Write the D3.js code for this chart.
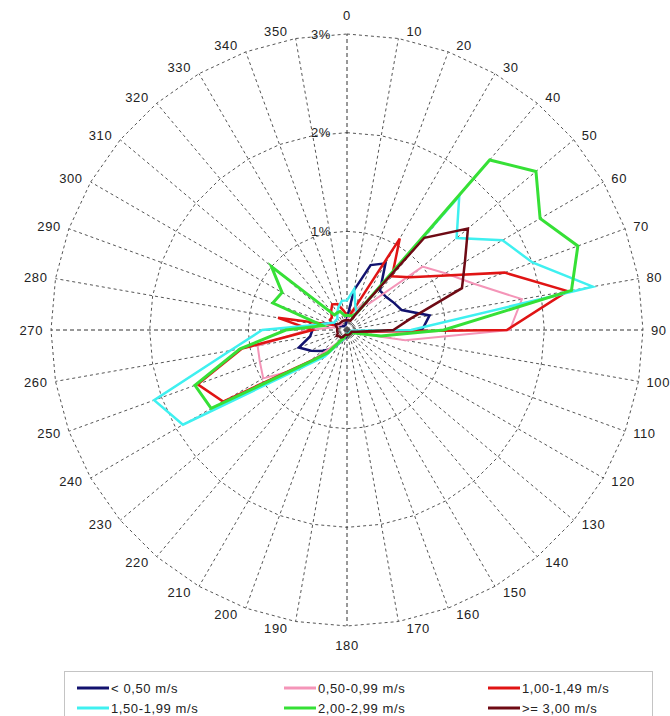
<!DOCTYPE html>
<html>
<head>
<meta charset="utf-8">
<script src="https://cdn.jsdelivr.net/npm/d3@7/dist/d3.min.js"></script>
<style>
  html, body { margin: 0; padding: 0; background: #fff; }
  svg { display: block; font-family: "Liberation Sans", Arial, sans-serif; }
  text { letter-spacing: 0.6px; }
</style>
</head>
<body>
<svg id="chart" width="670" height="716"></svg>
<script>
// Wind direction sectors (degrees) and radial scale ticks (% of time)
const directions = d3.range(0, 360, 10);
const directionLabels = directions.map(String);
const radialTicks = [1, 2, 3];
const radialTickLabels = ["1%", "2%", "3%"];

// Wind speed classes
const seriesNames = ["< 0,50 m/s", "0,50-0,99 m/s", "1,00-1,49 m/s",
                     "1,50-1,99 m/s", "2,00-2,99 m/s", ">= 3,00 m/s"];
const seriesColors = ["#12126e", "#f495b8", "#e01414", "#3ff0f0", "#36e036", "#6e0a14"];

// Frequency (%) per direction 0,10,...,350 for each speed class
const speedBelow050 = [0.12, 0.41, 0.70, 0.78, 0.52, 0.52, 0.55, 0.59, 0.85, 0.76, 0.10, 0.05,
                       0.05, 0.04, 0.04, 0.04, 0.05, 0.05, 0.06, 0.08, 0.10, 0.15, 0.25, 0.33,
                       0.42, 0.52, 0.38, 0.35, 0.32, 0.20, 0.10, 0.06, 0.05, 0.05, 0.05, 0.06];
const speed050to099 = [0.10, 0.15, 0.20, 0.30, 0.35, 1.00, 1.15, 1.37, 1.80, 1.65, 0.60, 0.10,
                       0.05, 0.05, 0.05, 0.05, 0.05, 0.05, 0.05, 0.05, 0.08, 0.12, 0.20, 0.60,
                       0.98, 0.94, 0.92, 0.40, 0.15, 0.10, 0.10, 0.08, 0.08, 0.10, 0.10, 0.10];
const speed100to149 = [0.15, 0.15, 0.25, 1.07, 0.71, 0.83, 1.10, 1.70, 2.27, 1.62, 0.10, 0.05,
                       0.05, 0.05, 0.05, 0.05, 0.05, 0.05, 0.05, 0.05, 0.10, 0.15, 0.30, 0.50,
                       1.45, 1.61, 1.08, 0.35, 0.71, 0.15, 0.20, 0.20, 0.25, 0.30, 0.28, 0.20];
const speed150to199 = [0.30, 0.42, 0.25, 0.20, 1.77, 1.45, 1.82, 2.00, 2.53, 0.65, 0.05, 0.04,
                       0.04, 0.04, 0.04, 0.04, 0.04, 0.04, 0.04, 0.04, 0.10, 0.15, 0.35, 0.58,
                       1.92, 2.08, 1.20, 0.86, 0.30, 0.20, 0.15, 0.15, 0.15, 0.20, 0.25, 0.30];
const speed200to299 = [0.15, 0.15, 0.15, 0.20, 2.25, 2.50, 2.26, 2.49, 2.31, 0.98, 0.35, 0.10,
                       0.05, 0.05, 0.05, 0.05, 0.05, 0.05, 0.05, 0.05, 0.08, 0.12, 0.30, 0.52,
                       1.59, 1.64, 1.10, 0.62, 0.25, 0.80, 0.76, 1.00, 0.20, 0.20, 0.20, 0.15];
const speedAbove300 = [0.10, 0.10, 0.10, 0.20, 1.22, 1.60, 1.38, 1.24, 0.65, 0.47, 0.10, 0.05,
                       0.05, 0.05, 0.05, 0.05, 0.05, 0.05, 0.05, 0.05, 0.05, 0.08, 0.10, 0.10,
                       0.12, 0.10, 0.10, 0.10, 0.10, 0.12, 0.12, 0.10, 0.10, 0.10, 0.10, 0.10];

const seriesValues = [speedBelow050, speed050to099, speed100to149,
                      speed150to199, speed200to299, speedAbove300];
const seriesWidths = [2.5, 2, 2.5, 2.5, 3, 2.5];

// Layout
const cx = 347, cy = 330, outerR = 296;
const svg = d3.select("#chart");
const g = svg.append("g").attr("transform", `translate(${cx},${cy})`);

const r = d3.scaleLinear().domain([0, 3]).range([0, outerR]);
const ang = d3.scaleLinear().domain([0, 360]).range([0, 2 * Math.PI]);

// Polygonal gridlines at each radial tick
const ringLine = d3.lineRadial()
  .angle(d => ang(d.dir))
  .radius(d => r(d.v))
  .curve(d3.curveLinearClosed);

const gridG = g.append("g").attr("class", "grid");
radialTicks.forEach(t => {
  gridG.append("path")
    .attr("d", ringLine(directions.map(dir => ({ dir, v: t }))))
    .attr("fill", "none")
    .attr("stroke", "#555")
    .attr("stroke-width", 1)
    .attr("stroke-dasharray", "3,3");
});

// Spokes
directions.forEach(dir => {
  const a = ang(dir);
  const x2 = Math.sin(a) * r(3), y2 = -Math.cos(a) * r(3);
  gridG.append("line")
    .attr("x1", 0).attr("y1", 0)
    .attr("x2", x2).attr("y2", y2)
    .attr("stroke", dir % 90 === 0 ? "#333" : "#555")
    .attr("stroke-width", 1)
    .attr("stroke-dasharray", dir % 90 === 0 ? "4,3" : "3,3");
});

// Radial tick labels
g.append("g").selectAll("text")
  .data(radialTicks)
  .join("text")
  .attr("x", -16)
  .attr("y", d => -r(d))
  .attr("dy", "0.35em")
  .attr("text-anchor", "end")
  .attr("font-size", 13)
  .attr("fill", "#222")
  .text((d, i) => radialTickLabels[i]);

// Direction labels outside the outer ring
const dirLabelG = g.append("g");
directions.forEach((dir, i) => {
  const a = ang(dir);
  const s = Math.sin(a), c = Math.cos(a);
  const vx = s * r(3), vy = -c * r(3);
  let x, y, anchor;
  if (Math.abs(s) < 0.01) {
    x = vx; y = vy - Math.sign(c) * 19; anchor = "middle";
  } else {
    anchor = s > 0 ? "start" : "end";
    x = vx + (s > 0 ? 8 : -8);
    y = vy - c * 7;
  }
  dirLabelG.append("text")
    .attr("x", x).attr("y", y)
    .attr("dy", "0.35em")
    .attr("text-anchor", anchor)
    .attr("font-size", 13)
    .attr("fill", "#222")
    .text(directionLabels[i]);
});

// Series polygons
const seriesLine = d3.lineRadial()
  .angle((d, i) => ang(directions[i]))
  .radius(d => r(d))
  .curve(d3.curveLinearClosed);

const seriesG = g.append("g");
seriesValues.forEach((vals, k) => {
  seriesG.append("path")
    .attr("d", seriesLine(vals))
    .attr("fill", "none")
    .attr("stroke", seriesColors[k])
    .attr("stroke-width", seriesWidths[k])
    .attr("stroke-linejoin", "miter");
});

// Legend
const legendG = svg.append("g");
legendG.append("rect")
  .attr("x", 64.5).attr("y", 671.5)
  .attr("width", 588).attr("height", 60)
  .attr("fill", "#fff")
  .attr("stroke", "#c4c4c4");

const legendCols = [77, 284, 488];
const legendRows = [688, 708];
seriesNames.forEach((name, k) => {
  const x = legendCols[k % 3], y = legendRows[Math.floor(k / 3)];
  legendG.append("line")
    .attr("x1", x).attr("x2", x + 32)
    .attr("y1", y).attr("y2", y)
    .attr("stroke", seriesColors[k])
    .attr("stroke-width", 3);
  legendG.append("text")
    .attr("x", x + 34).attr("y", y)
    .attr("dy", "0.35em")
    .attr("font-size", 13)
    .attr("fill", "#222")
    .text(name);
});
</script>
</body>
</html>
